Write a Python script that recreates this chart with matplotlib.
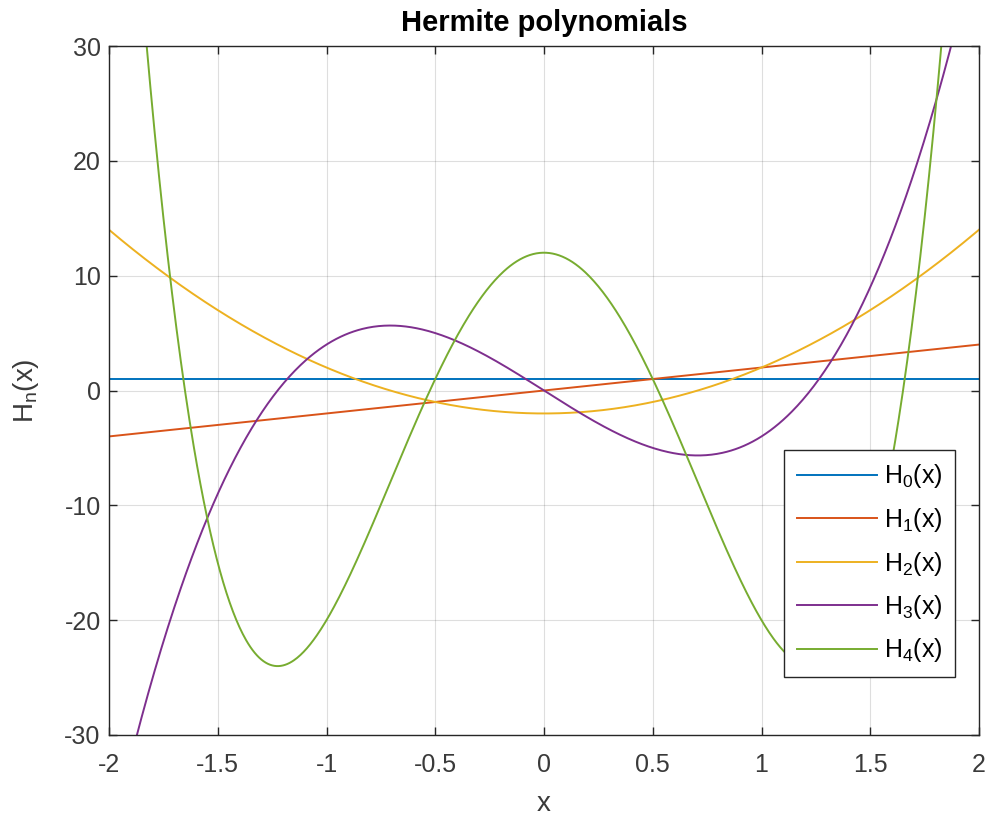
import numpy as np
import matplotlib
matplotlib.use("Agg")
from matplotlib import pyplot as plt

# Hermite polynomial coefficients (lowest power first), H_n(x)
h0 = [1]
h1 = [0, 2]
h2 = [-2, 0, 4]
h3 = [0, -12, 0, 8]
h4 = [12, 0, -48, 0, 16]
coeffs = [h0, h1, h2, h3, h4]
labels = ["$\\mathregular{H_0(x)}$", "$\\mathregular{H_1(x)}$", "$\\mathregular{H_2(x)}$",
          "$\\mathregular{H_3(x)}$", "$\\mathregular{H_4(x)}$"]
xticks = [-2, -1.5, -1, -0.5, 0, 0.5, 1, 1.5, 2]
xticklabels = ["-2", "-1.5", "-1", "-0.5", "0", "0.5", "1", "1.5", "2"]
yticks = [-30, -20, -10, 0, 10, 20, 30]
yticklabels = ["-30", "-20", "-10", "0", "10", "20", "30"]

colors = ["#0072BD", "#D95319", "#EDB120", "#7E2F8E", "#77AC30"]

plt.rcParams["font.family"] = ["Liberation Sans", "DejaVu Sans"]
plt.rcParams["mathtext.fontset"] = "custom"
plt.rcParams["mathtext.rm"] = "Liberation Sans"
plt.rcParams["axes.unicode_minus"] = False

fig = plt.figure(figsize=(9.88, 8.17), dpi=100)
ax = fig.add_axes([109 / 988, 1 - 735 / 817, (979 - 109) / 988, (735 - 46) / 817])

x = np.linspace(-2, 2, 801)
for c, col, lab in zip(coeffs, colors, labels):
    ax.plot(x, np.polynomial.polynomial.polyval(x, c), color=col, lw=1.4, label=lab)

ax.set_xlim(-2, 2)
ax.set_ylim(-30, 30)
ax.set_xticks(xticks)
ax.set_xticklabels(xticklabels)
ax.set_yticks(yticks)
ax.set_yticklabels(yticklabels)
ax.grid(True, color="#262626", alpha=0.15, lw=0.8)
ax.set_axisbelow(True)
for s in ax.spines.values():
    s.set_color("#262626")
    s.set_linewidth(1.0)
ax.tick_params(direction="in", length=6, width=1.0, colors="#262626",
               labelcolor="#3a3a3a", labelsize=18, top=True, right=True)
ax.tick_params(axis="x", pad=13)
ax.tick_params(axis="y", pad=6)

ax.set_title("Hermite polynomials", fontsize=21, fontweight="bold", color="black", pad=11)
ax.set_xlabel("x", fontsize=20, color="#3a3a3a", labelpad=10)
ax.set_ylabel("$\\mathregular{H_n(x)}$", fontsize=20, color="#3a3a3a", labelpad=17)

leg = ax.legend(loc="lower right", bbox_to_anchor=(955 / 988, 1 - 677 / 817),
                bbox_transform=fig.transFigure, fontsize=18, frameon=True, fancybox=False,
                framealpha=1, edgecolor="#262626", handlelength=3.2, labelspacing=0.62,
                borderpad=0.5, handletextpad=0.3, borderaxespad=0)
leg.get_frame().set_linewidth(1.0)

fig.savefig("out.png", dpi=100)
